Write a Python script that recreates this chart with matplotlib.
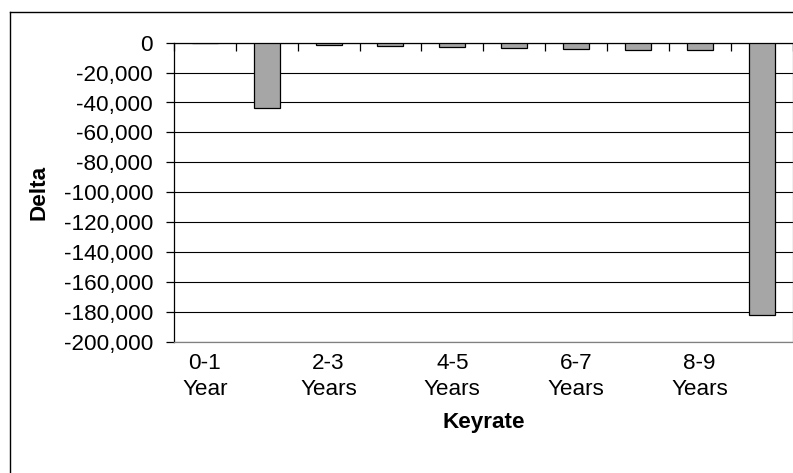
import matplotlib
matplotlib.use("Agg")
import matplotlib.pyplot as plt
from matplotlib.lines import Line2D
from matplotlib.ticker import FuncFormatter, FixedLocator
import numpy as np

plt.rcParams['font.family'] = ['Liberation Sans', 'DejaVu Sans']

categories = ["0-1\nYear", "1-2\nYears", "2-3\nYears", "3-4\nYears", "4-5\nYears",
              "5-6\nYears", "6-7\nYears", "7-8\nYears", "8-9\nYears", "9-10\nYears"]
delta = [-300, -44000, -1700, -2300, -2900, -3500, -4100, -4700, -5000, -182000]
y_ticks = [0, -20000, -40000, -60000, -80000, -100000, -120000, -140000,
           -160000, -180000, -200000]

W, H = 793, 473
FS = 16.2
fig = plt.figure(figsize=(W / 100, H / 100), dpi=100)
fig.patch.set_facecolor("white")

left, right, top, bottom = 174, 792.5, 42.7, 341.7
ax = fig.add_axes([left / W, 1 - bottom / H, (right - left) / W, (bottom - top) / H])

x = np.arange(len(categories))
ax.bar(x, delta, width=0.42, color="#a6a6a6", edgecolor="black", linewidth=0.9, zorder=3)

ax.set_xlim(-0.5, len(categories) - 0.5)
ax.set_ylim(-200000, 0)

# y axis
ax.yaxis.set_major_locator(FixedLocator(y_ticks))
ax.yaxis.set_major_formatter(FuncFormatter(lambda v, p: f"{int(v):,}"))
ax.tick_params(axis="y", direction="out", length=6, width=0.9, color="black",
               labelsize=FS, pad=9)
ax.yaxis.grid(True, color="black", linewidth=0.8, zorder=0)
ax.set_axisbelow(True)

# category boundaries as tick marks along the zero line (top spine)
ax.xaxis.set_major_locator(FixedLocator(np.arange(-0.5, len(categories) + 0.5, 1.0)))
ax.xaxis.set_major_formatter(FuncFormatter(lambda v, p: ""))
ax.tick_params(axis="x", which="major", top=True, bottom=False, direction="in",
               length=6, width=0.9, color="black", labeltop=False, labelbottom=False)

# every other category labelled at the bottom
label_pos = x[::2]
ax.xaxis.set_minor_locator(FixedLocator(label_pos))
ax.set_xticklabels([categories[i] for i in label_pos], minor=True)
ax.tick_params(axis="x", which="minor", bottom=True, top=False, length=0,
               labelbottom=True, labelsize=FS, pad=8)
for t in ax.get_xticklabels(minor=True):
    t.set_linespacing(1.3)

for side in ("left", "top"):
    ax.spines[side].set_color("black")
    ax.spines[side].set_linewidth(0.9)
for side in ("right", "bottom"):
    ax.spines[side].set_color("#808080")
    ax.spines[side].set_linewidth(0.9)

ax.set_xlabel("Keyrate", fontsize=FS, fontweight="bold", labelpad=9)
ax.set_ylabel("Delta", fontsize=FS, fontweight="bold", labelpad=10)

# chart frame
fx, fy = 9.5 / W, 1 - 11.7 / H
fig.add_artist(Line2D([fx, 1.0], [fy, fy], transform=fig.transFigure, color="black", linewidth=1.0))
fig.add_artist(Line2D([fx, fx], [0.0, fy], transform=fig.transFigure, color="black", linewidth=1.0))

fig.savefig("out.png", dpi=100)
